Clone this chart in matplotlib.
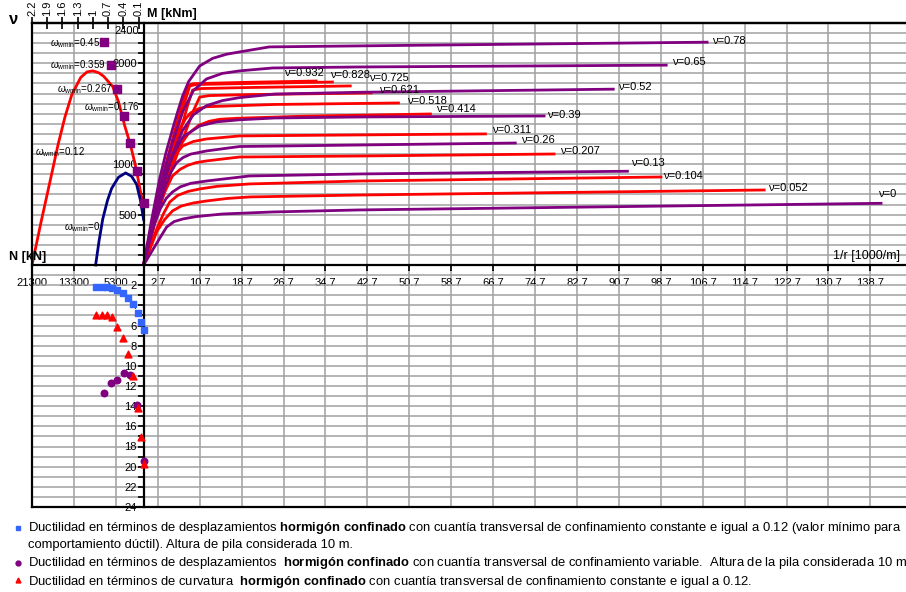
import numpy as np
import matplotlib.pyplot as plt
from matplotlib.lines import Line2D
from matplotlib.ticker import FixedLocator, FuncFormatter, MultipleLocator

plt.rcParams['font.family'] = ['Liberation Sans', 'DejaVu Sans']
plt.rcParams['mathtext.fontset'] = 'custom'
plt.rcParams['mathtext.rm'] = 'Liberation Sans'
plt.rcParams['mathtext.it'] = 'Liberation Sans:italic'
plt.rcParams['mathtext.bf'] = 'Liberation Sans:bold'

K_N = 21.3 / 2.2   # axial load N [1000 kN] = K_N * nu
K_DUCT = 100.0     # one ductility unit is drawn as 100 kNm below the axis

RED = '#FF0000'
PURPLE = '#800080'
NAVY = '#000080'
BLUE = '#3366FF'

# moment-curvature, constant confinement w = 0.12 (red)
nu_red = [0.932, 0.828, 0.725, 0.621, 0.518, 0.414, 0.311, 0.207, 0.104, 0.052]
curv_red = [
    [0, 2.0, 4.0, 6.0, 7.5, 8.4, 9.5, 12, 20, 33.2],
    [0, 2.0, 4.2, 6.3, 8.0, 8.8, 10, 20, 36.3],
    [0, 2.2, 4.5, 6.8, 8.5, 9.35, 11, 20, 39.7],
    [0, 2.5, 5.0, 7.5, 9.5, 10.7, 12.5, 20, 43.7],
    [0, 1.7, 3.5, 5.2, 6.9, 8.0, 9.0, 10.5, 12, 25, 48.9],
    [0, 1.5, 3.0, 4.7, 6.5, 8.5, 10.5, 12.5, 14.5, 17.7, 30, 55],
    [0, 1.3, 2.5, 3.5, 4.5, 6.0, 7.44, 9.5, 12, 18.3, 41.2, 65.5],
    [0, 1.2, 2.5, 4.0, 5.5, 7.0, 8.5, 10, 12, 18.3, 41.2, 78.6],
    [0, 1.2, 2.5, 3.8, 5.0, 6.5, 8.5, 10.7, 14, 20.2, 41.2, 99],
    [0, 1.3, 2.5, 4.0, 5.5, 7.2, 9.5, 12, 16, 20.2, 41.2, 118.7],
]
mom_red = [
    [0, 520, 950, 1340, 1620, 1780, 1798, 1802, 1812, 1825],
    [0, 500, 940, 1320, 1640, 1775, 1790, 1800, 1815],
    [0, 480, 920, 1290, 1600, 1735, 1750, 1760, 1776],
    [0, 480, 900, 1250, 1530, 1665, 1680, 1690, 1706],
    [0, 400, 780, 1080, 1349, 1450, 1510, 1550, 1570, 1592, 1607],
    [0, 320, 620, 900, 1150, 1300, 1385, 1425, 1445, 1455, 1475, 1498],
    [0, 330, 600, 790, 950, 1090, 1180, 1225, 1250, 1280, 1290, 1300],
    [0, 250, 500, 720, 883, 950, 990, 1015, 1032, 1071, 1081, 1101],
    [0, 180, 357, 510, 625, 690, 730, 754, 780, 804, 833, 873],
    [0, 170, 330, 450, 536, 585, 615, 635, 660, 675, 694, 744],
]

# moment-curvature, variable confinement (purple)
nu_pur = [0.78, 0.65, 0.52, 0.39, 0.26, 0.13, 0]
w_pur = ['0.45', '0.359', '0.267', '0.176']
curv_pur = [
    [0, 1.5, 3.05, 4.3, 5.53, 6.5, 7.44, 8.6, 10.7, 13.2, 15.8, 18.3, 24, 41.2, 107.8],
    [0, 1.7, 3.4, 5.4, 7.44, 9.5, 12, 15, 18.3, 24.6, 41.2, 100],
    [0, 1.8, 3.5, 5.5, 7.4, 9.5, 12, 15, 18.3, 25, 41.2, 89.9],
    [0, 1.3, 2.5, 4.0, 5.5, 7.5, 10.7, 14, 18.3, 25, 41.2, 76.7],
    [0, 1.3, 2.5, 4.0, 5.2, 6.3, 7.5, 9.0, 12, 18.3, 41.2, 71.2],
    [0, 1.0, 2.0, 3.2, 4.3, 5.5, 7.0, 9.0, 12, 20.2, 41.2, 92.6],
    [0, 1.1, 2.2, 3.3, 4.4, 5.8, 7.44, 10, 15.1, 24.6, 41.2, 141],
]
mom_pur = [
    [0, 440, 853, 1120, 1349, 1520, 1676, 1820, 1974, 2050, 2090, 2113, 2163, 2173, 2210],
    [0, 430, 823, 1200, 1518, 1730, 1845, 1900, 1925, 1954, 1964, 1982],
    [0, 400, 760, 1090, 1330, 1490, 1580, 1630, 1660, 1695, 1713, 1744],
    [0, 300, 560, 850, 1081, 1270, 1379, 1420, 1440, 1458, 1468, 1478],
    [0, 270, 500, 760, 920, 1015, 1065, 1100, 1131, 1175, 1190, 1210],
    [0, 210, 400, 560, 660, 724, 775, 810, 833, 883, 903, 930],
    [0, 95, 190, 285, 377, 430, 456, 480, 506, 526, 546, 612],
]

# interaction diagrams, N in 1000 kN (compression to the left)
n_w012 = [21.3, 19.6, 17.9, 16.3, 15.0, 13.7, 12.0, 10.8, 9.7, 8.5, 7.6, 5.9,
          4.8, 3.6, 2.5, 1.34, 0.5, 0]
m_w012 = [0, 420, 820, 1200, 1470, 1690, 1860, 1915, 1925, 1905, 1870, 1770,
          1620, 1380, 1190, 935, 700, 610]
n_w0 = [9.16, 8.5, 7.8, 6.9, 6.1, 4.8, 3.44, 2.3, 1.34, 0.6, 0]
m_w0 = [0, 240, 456, 640, 760, 870, 913, 880, 800, 640, 450]

# ductility values
nu_duct = [0.932, 0.828, 0.725, 0.621, 0.518, 0.414, 0.311, 0.207, 0.104, 0.052, 0]
mu_disp_012 = [2.2, 2.2, 2.2, 2.3, 2.5, 2.8, 3.3, 3.9, 4.8, 5.7, 6.4]
mu_curv_012 = [5.0, 5.0, 5.0, 5.2, 6.1, 7.2, 8.8, 11.0, 14.2, 17.1, 19.7]
mu_disp_var = [12.7, 11.7, 11.4, 10.7, 10.9, 13.9, 19.4]

nu_ticks = [2.2, 1.9, 1.6, 1.3, 1, 0.7, 0.4, 0.1]
x_ticks = np.round(np.arange(-21.3, 140, 8), 1)

# label offsets (pixels) from the end of each curve
off_red = [(-34, 8), (-4, 7), (17, 8), (6, 3), (7, 2), (4, 5), (5, 4), (5, 3), (1, 1), (2, 2)]
off_pur = [(4, 1), (4, 3), (3, 2), (2, 1), (4, 3), (2, 8), (-4, 9)]

fig = plt.figure(figsize=(9.06, 5.92), dpi=100)
ax = fig.add_axes([32 / 906, 85 / 592, 874 / 906, 484 / 592])
ax.set_xlim(-21.302, 145.5)
ax.set_ylim(-2400, 2400)

for nu, r, m, off in zip(nu_red, curv_red, mom_red, off_red):
    ax.plot(r, m, color=RED, lw=2, solid_capstyle='butt', solid_joinstyle='round')
    ax.annotate(f'ν={nu:g}', (r[-1], m[-1]), xytext=off, textcoords='offset pixels',
                ha='left', va='center', fontsize=8)
for nu, r, m, off in zip(nu_pur, curv_pur, mom_pur, off_pur):
    ax.plot(r, m, color=PURPLE, lw=2, solid_capstyle='butt', solid_joinstyle='round')
    ax.annotate(f'ν={nu:g}', (r[-1], m[-1]), xytext=off, textcoords='offset pixels',
                ha='left', va='center', fontsize=8)

# M-N interaction
ax.plot(-np.array(n_w012), m_w012, color=RED, lw=2, solid_joinstyle='round')
ax.plot(-np.array(n_w0), m_w0, color=NAVY, lw=2, solid_joinstyle='round')
m_peak = [max(m) for m in mom_pur]
ax.scatter(-K_N * np.array(nu_pur), m_peak, marker='s', s=26, color=PURPLE, zorder=4)

w_pos = [(-17.9, 2202), (-17.9, 1984), (-16.6, 1746), (-11.3, 1567)]
for w, (x, y) in zip(w_pur, w_pos):
    ax.text(x, y, r'$\omega_{\rm wmin}$=' + w, fontsize=7, va='center')
ax.text(-20.8, 1121, r'$\omega_{\rm wmin}$=0.12', fontsize=7, va='center')
ax.text(-15.1, 377, r'$\omega_{\rm wmin}$=0', fontsize=7, va='center')

# ductility (lower half)
ax.scatter(-K_N * np.array(nu_duct), -K_DUCT * np.array(mu_disp_012),
           marker='s', s=16, color=BLUE, zorder=4)
ax.scatter(-K_N * np.array(nu_pur), -K_DUCT * np.array(mu_disp_var),
           marker='o', s=22, color=PURPLE, zorder=4)
ax.scatter(-K_N * np.array(nu_duct), -K_DUCT * np.array(mu_curv_012),
           marker='^', s=24, color=RED, zorder=5)


def x_fmt(v, pos):
    if v < 0:
        return f'{-v * 1000:.0f}'
    return f'{v:.1f}'


def m_fmt(v, pos):
    v = int(round(v))
    if v > 0:
        return str(v) if v in (500, 1000, 2000) else ''
    if v < 0 and v % 200 == 0:
        return str(int(-v / K_DUCT))
    return ''


ax.xaxis.set_major_locator(FixedLocator(x_ticks))
ax.xaxis.set_major_formatter(FuncFormatter(x_fmt))
ax.yaxis.set_major_locator(MultipleLocator(100))
ax.yaxis.set_major_formatter(FuncFormatter(m_fmt))
ax.tick_params(axis='both', direction='out', length=4, width=1.2, labelsize=8)
ax.tick_params(axis='x', pad=5)
ax.tick_params(axis='y', pad=1)
ax.grid(True, color='#a0a0a0', lw=1.1)
ax.set_axisbelow(True)

ax.spines['left'].set_position(('data', 0))
ax.spines['bottom'].set_position(('data', 0))
ax.spines['right'].set_visible(False)
for s in ['left', 'bottom', 'top']:
    ax.spines[s].set_linewidth(1.6)
ax.axvline(ax.get_xlim()[0], color='k', lw=1.6, clip_on=False)
ax.axhline(-2400, color='k', lw=1.6, clip_on=False)

# axial load ratio on top
top = ax.secondary_xaxis('top', functions=(lambda x: -x / K_N, lambda v: -v * K_N))
top.set_xticks(nu_ticks)
top.set_xticklabels([f'{v:g}' for v in nu_ticks], rotation=90, fontsize=8)
top.tick_params(direction='inout', length=8, width=1.2, pad=1)
top.spines['top'].set_linewidth(1.6)

ax.annotate('2400', (0, 2400), xytext=(-5, -3), textcoords='offset pixels',
            ha='right', va='top', fontsize=8)
ax.annotate('M [kNm]', (0, 2400), xytext=(3, 3), textcoords='offset pixels',
            ha='left', va='bottom', fontsize=9, fontweight='bold')
ax.annotate('N [kN]', (-21.3, 0), xytext=(-23, 2), textcoords='offset pixels',
            ha='left', va='bottom', fontsize=9, fontweight='bold')
ax.annotate('1/r [1000/m]', (131.5, 0), xytext=(0, 3), textcoords='offset pixels',
            ha='left', va='bottom', fontsize=9)
fig.text(9 / 906, 1 - 20 / 592, 'ν', fontsize=12, fontweight='bold', va='center')

# legend below the chart
leg_lines = [
    (528, r'Ductilidad en términos de desplazamientos $\mathbf{hormigón\ confinado}$ con cuantía '
          r'transversal de confinamiento constante e igual a 0.12 (valor mínimo para'),
    (545, 'comportamiento dúctil). Altura de pila considerada 10 m.'),
    (563, r'Ductilidad en términos de desplazamientos  $\mathbf{hormigón\ confinado}$ con cuantía '
          r'transversal de confinamiento variable.  Altura de la pila considerada 10 m'),
    (582, r'Ductilidad en términos de curvatura  $\mathbf{hormigón\ confinado}$ con cuantía '
          r'transversal de confinamiento constante e igual a 0.12.'),
]
for y, txt in leg_lines:
    fig.text(28 / 906, 1 - y / 592, txt, fontsize=9.4, va='center')

leg_marks = [(528, 's', BLUE), (563, 'o', PURPLE), (580, '^', RED)]
for y, mk, c in leg_marks:
    fig.add_artist(Line2D([18 / 906], [1 - y / 592], marker=mk, color=c, ms=3.5,
                          linestyle='none', transform=fig.transFigure))

fig.savefig('out.png', dpi=100)
